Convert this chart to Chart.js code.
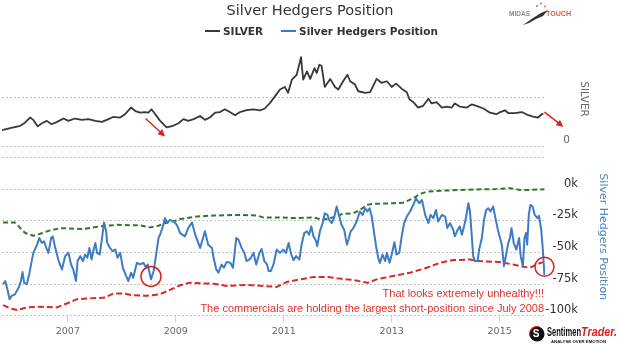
<!DOCTYPE html>
<html>
<head>
<meta charset="utf-8">
<title>Silver Hedgers Position</title>
<script src="https://cdn.jsdelivr.net/npm/chart.js"></script>
<style>
  body { margin: 0; background: #fff; }
  #wrap { position: relative; width: 620px; height: 348px; font-family: "DejaVu Sans", sans-serif; }
  #title { position: absolute; left: 0; top: 2px; width: 620px; text-align: center; font-size: 14.5px; line-height: 17px; color: #333; }
  #legend { position: absolute; left: 205px; top: 24px; height: 14px; font-size: 10.5px; font-weight: bold; color: #333; white-space: nowrap; }
  #legend span { display: inline-block; vertical-align: middle; line-height: 14px; }
  #legend .swatch { width: 15px; height: 2px; margin-right: 3px; }
  #legend .gap { width: 18px; }
  canvas { position: absolute; left: 0; top: 0; }
</style>
</head>
<body>
<div id="wrap">
  <canvas id="chart" width="620" height="348"></canvas>
  <div id="title">Silver Hedgers Position</div>
  <div id="legend">
    <span class="swatch" style="background:#383838"></span><span>SILVER</span><span class="gap"></span><span class="swatch" style="background:#3d7cc5"></span><span>Silver Hedgers Position</span>
  </div>
</div>
<script>
// weekly closes, dates as decimal years
const silverDates = [
  2005.78, 2005.93, 2006.12, 2006.21, 2006.30, 2006.36, 2006.44, 2006.52, 2006.61, 2006.70,
  2006.80, 2006.92, 2007.01, 2007.13, 2007.26, 2007.38, 2007.51, 2007.63, 2007.72, 2007.84,
  2007.97, 2008.06, 2008.17, 2008.25, 2008.34, 2008.43, 2008.49, 2008.55, 2008.62, 2008.71,
  2008.77, 2008.83, 2008.95, 2009.05, 2009.14, 2009.23, 2009.33, 2009.45, 2009.54, 2009.63,
  2009.73, 2009.82, 2009.91, 2010.00, 2010.10, 2010.19, 2010.31, 2010.44, 2010.56, 2010.65,
  2010.75, 2010.84, 2010.93, 2011.02, 2011.08, 2011.15, 2011.24, 2011.32, 2011.36, 2011.43,
  2011.49, 2011.57, 2011.61, 2011.66, 2011.70, 2011.76, 2011.86, 2011.95, 2012.01, 2012.10,
  2012.18, 2012.23, 2012.32, 2012.38, 2012.51, 2012.60, 2012.72, 2012.81, 2012.91, 2013.00,
  2013.08, 2013.19, 2013.28, 2013.33, 2013.40, 2013.49, 2013.58, 2013.68, 2013.74, 2013.83,
  2013.93, 2014.02, 2014.11, 2014.17, 2014.26, 2014.39, 2014.48, 2014.57, 2014.70, 2014.82,
  2014.94, 2015.01, 2015.10, 2015.16, 2015.28, 2015.41, 2015.53, 2015.62, 2015.71, 2015.78,
  2015.81
];
const silverPrices = [
  8.2, 9.2, 10.4, 12.1, 14.6, 13.4, 10.1, 11.7, 12.9, 11.2,
  12.4, 14.1, 12.9, 14.1, 13.4, 13.8, 12.9, 12.4, 13.4, 14.9,
  14.6, 16.3, 19.7, 17.9, 17.1, 17.4, 17.1, 18.8, 16.3, 12.9,
  11.2, 9.6, 10.4, 11.7, 13.8, 12.9, 13.8, 15.4, 13.4, 14.6,
  17.1, 17.4, 18.8, 17.4, 15.8, 17.4, 18.4, 18.8, 18.3, 19.2,
  22.2, 25.5, 28.9, 30.2, 27.2, 33.9, 36.4, 45.4, 33.9, 38.1,
  34.3, 39.8, 37.3, 41.5, 41.0, 30.2, 34.3, 30.2, 28.9, 33.1,
  36.4, 33.1, 31.4, 28.0, 27.2, 27.5, 34.3, 32.3, 33.1, 30.2,
  31.9, 29.2, 27.5, 23.8, 22.5, 19.7, 20.5, 24.2, 21.8, 22.5,
  19.7, 20.2, 19.7, 21.8, 20.2, 19.7, 21.3, 20.5, 19.2, 17.1,
  16.3, 17.4, 18.3, 16.8, 16.8, 17.4, 15.8, 15.1, 14.6, 16.3,
  16.6
];

// commercial hedgers net position, thousands of contracts
const hedgeDates = [
  2005.80, 2005.84, 2005.88, 2005.92, 2005.96, 2006.02, 2006.09, 2006.13, 2006.16, 2006.19,
  2006.24, 2006.29, 2006.33, 2006.36, 2006.43, 2006.47, 2006.52, 2006.56, 2006.60, 2006.64,
  2006.69, 2006.72, 2006.76, 2006.83, 2006.89, 2006.95, 2007.01, 2007.06, 2007.10, 2007.15,
  2007.18, 2007.23, 2007.28, 2007.32, 2007.36, 2007.40, 2007.44, 2007.47, 2007.51, 2007.54,
  2007.59, 2007.63, 2007.67, 2007.71, 2007.73, 2007.78, 2007.83, 2007.88, 2007.92, 2007.97,
  2008.02, 2008.08, 2008.12, 2008.17, 2008.21, 2008.28, 2008.34, 2008.40, 2008.45, 2008.48,
  2008.54, 2008.59, 2008.64, 2008.68, 2008.72, 2008.76, 2008.80, 2008.84, 2008.89, 2008.96,
  2009.02, 2009.08, 2009.17, 2009.23, 2009.30, 2009.36, 2009.45, 2009.54, 2009.60, 2009.67,
  2009.70, 2009.75, 2009.79, 2009.85, 2009.89, 2009.94, 2010.01, 2010.06, 2010.12, 2010.16,
  2010.22, 2010.27, 2010.31, 2010.38, 2010.44, 2010.49, 2010.55, 2010.59, 2010.64, 2010.69,
  2010.72, 2010.76, 2010.81, 2010.87, 2010.93, 2010.99, 2011.04, 2011.09, 2011.13, 2011.18,
  2011.23, 2011.29, 2011.33, 2011.38, 2011.43, 2011.47, 2011.51, 2011.55, 2011.60, 2011.62,
  2011.67, 2011.72, 2011.76, 2011.81, 2011.84, 2011.89, 2011.93, 2011.98, 2012.03, 2012.07,
  2012.12, 2012.17, 2012.20, 2012.24, 2012.29, 2012.35, 2012.41, 2012.46, 2012.51, 2012.55,
  2012.59, 2012.63, 2012.67, 2012.71, 2012.75, 2012.78, 2012.83, 2012.88, 2012.91, 2012.96,
  2013.00, 2013.05, 2013.09, 2013.14, 2013.19, 2013.23, 2013.28, 2013.34, 2013.40, 2013.45,
  2013.51, 2013.56, 2013.62, 2013.68, 2013.72, 2013.77, 2013.82, 2013.86, 2013.93, 2013.99,
  2014.03, 2014.08, 2014.14, 2014.17, 2014.21, 2014.26, 2014.30, 2014.34, 2014.38, 2014.42,
  2014.45, 2014.48, 2014.51, 2014.54, 2014.59, 2014.62, 2014.67, 2014.71, 2014.75, 2014.79,
  2014.83, 2014.88, 2014.91, 2014.96, 2014.99, 2015.04, 2015.08, 2015.12, 2015.16, 2015.19,
  2015.22, 2015.26, 2015.31, 2015.36, 2015.39, 2015.43, 2015.46, 2015.49, 2015.51, 2015.54,
  2015.57, 2015.61, 2015.65, 2015.70, 2015.73, 2015.77, 2015.80, 2015.83
];
const hedgeValues = [
  -75.2, -72.6, -79.1, -87.0, -84.4, -83.1, -77.8, -72.6, -65.5, -73.9,
  -75.2, -66.0, -56.8, -50.3, -43.8, -38.5, -42.4, -41.1, -46.4, -50.3,
  -38.5, -37.2, -45.0, -56.8, -63.4, -52.9, -50.3, -59.5, -63.4, -72.6,
  -56.8, -52.9, -56.8, -51.6, -54.2, -46.4, -55.6, -49.0, -42.4, -50.3,
  -51.6, -39.8, -26.2, -33.2, -42.4, -46.4, -49.0, -47.7, -54.2, -50.3,
  -62.1, -68.6, -72.6, -66.0, -70.0, -58.2, -59.5, -58.2, -62.1, -59.5,
  -71.3, -64.7, -50.3, -38.5, -34.6, -29.3, -22.8, -26.7, -24.1, -25.4,
  -28.1, -34.6, -37.2, -30.7, -26.2, -35.9, -46.4, -33.2, -43.8, -46.4,
  -54.2, -63.4, -66.0, -59.5, -62.1, -57.6, -58.2, -62.1, -38.5, -39.8,
  -46.4, -50.3, -56.8, -55.0, -50.3, -59.5, -50.3, -47.2, -56.8, -59.5,
  -64.7, -64.7, -59.5, -47.7, -50.3, -47.7, -50.3, -42.4, -50.3, -56.0,
  -52.9, -55.6, -43.8, -34.6, -33.2, -35.9, -29.3, -37.2, -41.1, -45.0,
  -33.2, -26.7, -18.9, -20.2, -24.1, -26.7, -22.8, -13.6, -21.5, -28.1,
  -32.0, -43.8, -39.8, -33.2, -30.7, -25.4, -17.5, -20.2, -14.9, -17.5,
  -14.9, -21.5, -33.2, -45.0, -54.2, -58.2, -51.6, -56.8, -50.3, -58.2,
  -51.6, -41.9, -51.6, -50.3, -35.9, -26.7, -21.5, -17.5, -12.3, -7.1,
  -11.0, -8.4, -20.2, -26.7, -20.2, -22.8, -16.3, -25.4, -20.2, -21.5,
  -30.7, -26.7, -32.0, -37.2, -33.2, -29.3, -35.9, -29.3, -21.5, -11.0,
  -17.5, -34.6, -52.9, -56.8, -56.8, -47.7, -38.5, -24.1, -16.3, -14.9,
  -17.5, -13.6, -20.2, -30.7, -35.9, -43.8, -60.8, -51.6, -42.4, -38.5,
  -30.7, -42.4, -47.7, -38.5, -52.9, -60.8, -38.5, -34.6, -43.8, -20.2,
  -12.3, -13.6, -20.2, -22.8, -21.0, -32.0, -47.7, -68.0
];

// 3-year high of the hedger position (green dashed)
const highDates = [
  2005.80, 2006.02, 2006.12, 2006.21, 2006.36, 2006.49, 2006.67, 2006.86, 2007.29, 2007.60,
  2007.91, 2008.34, 2008.52, 2008.68, 2008.83, 2009.02, 2009.08, 2009.39, 2009.70, 2010.19,
  2010.50, 2010.62, 2010.93, 2011.24, 2011.55, 2011.73, 2011.92, 2012.10, 2012.29, 2012.44,
  2012.54, 2012.66, 2013.03, 2013.21, 2013.40, 2013.52, 2013.65, 2013.95, 2014.26, 2014.57,
  2014.88, 2015.19, 2015.38, 2015.56, 2015.83
];
const highValues = [
  -26.2, -26.2, -30.7, -34.6, -36.7, -35.1, -32.5, -30.7, -31.4, -29.3,
  -28.1, -28.5, -30.1, -28.8, -26.2, -24.6, -23.5, -21.5, -20.7, -20.2,
  -20.7, -22.2, -22.2, -22.8, -22.2, -24.1, -22.0, -19.4, -18.9, -15.5,
  -12.3, -11.5, -11.0, -10.5, -7.1, -3.7, -1.8, -1.0, -0.5, 0.0,
  0.2, 1.0, -0.5, -0.5, 0.2
];

// 3-year low of the hedger position (red dashed)
const lowDates = [
  2005.80, 2005.93, 2006.06, 2006.24, 2006.43, 2006.80, 2006.98, 2007.17, 2007.35, 2007.69,
  2007.84, 2008.03, 2008.21, 2008.46, 2008.71, 2008.89, 2009.08, 2009.26, 2009.45, 2009.70,
  2009.94, 2010.31, 2010.62, 2010.87, 2011.06, 2011.30, 2011.55, 2011.80, 2012.04, 2012.29,
  2012.47, 2012.56, 2012.72, 2013.03, 2013.34, 2013.65, 2013.89, 2014.14, 2014.45, 2014.63,
  2015.00, 2015.25, 2015.44, 2015.56, 2015.68, 2015.80
];
const lowValues = [
  -91.7, -94.3, -95.6, -93.5, -93.0, -93.5, -90.4, -87.0, -86.5, -85.7,
  -82.5, -82.5, -83.9, -84.3, -83.1, -79.6, -76.0, -73.9, -74.4, -74.7,
  -76.5, -75.7, -76.5, -77.3, -73.3, -71.3, -69.4, -69.4, -70.7, -71.8,
  -73.3, -74.0, -71.3, -68.6, -66.0, -62.1, -58.2, -56.0, -55.6, -56.8,
  -57.6, -59.5, -61.3, -62.1, -59.5, -57.6
];

const yearTicks = [2007, 2009, 2011, 2013, 2015];
const silverGrid = [0, 25];
const silverLabels = [0];
const hedgeGrid = [25, 0, -25, -50, -75, -100];
const hedgeLabels = [0, -25, -50, -75, -100];

// red markup drawn over the chart, in data units
const arrows = [
  { from: [2008.44, 14.1], to: [2008.80, 5.0] },
  { from: [2015.83, 17.4], to: [2016.18, 9.9] }
];
const rings = [
  { at: [2008.54, -69.0], r: 10 },
  { at: [2015.83, -61.3], r: 9.5 }
];
const notes = [
  { text: 'That looks extremely unhealthy!!!', y: -82.9 },
  { text: 'The commercials are holding the largest short-position since July 2008', y: -95.1 }
];

const pts = (xs, ys) => xs.map((x, i) => ({ x: x, y: ys[i] }));

function squeeze(ctx, text, x, y, width) {
  const w = ctx.measureText(text).width;
  ctx.save();
  ctx.translate(x, y);
  ctx.scale(width / w, 1);
  ctx.fillText(text, 0, 0);
  ctx.restore();
}

function upright(ctx, text, x, y, font, color) {
  ctx.save();
  ctx.translate(x, y);
  ctx.rotate(Math.PI / 2);
  ctx.font = font;
  ctx.fillStyle = color;
  ctx.textAlign = 'center';
  ctx.textBaseline = 'middle';
  ctx.fillText(text, 0, 0);
  ctx.restore();
}

function drawLogos(ctx) {
  // MIDAS TOUCH
  ctx.textAlign = 'left';
  ctx.textBaseline = 'middle';
  ctx.font = 'bold 7.5px "Liberation Sans"';
  ctx.fillStyle = '#8c8c8c';
  squeeze(ctx, 'MIDAS', 509, 14, 21);
  ctx.fillStyle = '#e4583e';
  squeeze(ctx, 'TOUCH', 546, 14, 25);
  ctx.fillStyle = '#333';
  ctx.beginPath();
  ctx.moveTo(523, 25);
  ctx.lineTo(533, 18);
  ctx.lineTo(541, 13);
  ctx.lineTo(548, 10);
  ctx.lineTo(543, 16);
  ctx.lineTo(536, 19);
  ctx.lineTo(529, 23);
  ctx.closePath();
  ctx.fill();
  ctx.fillStyle = '#e4583e';
  [[537, 6], [541, 3.5], [545, 6.5]].forEach(([dx, dy]) => {
    ctx.beginPath();
    ctx.arc(dx, dy, 0.9, 0, Math.PI * 2);
    ctx.fill();
  });

  // SentimenTrader
  ctx.fillStyle = '#111';
  ctx.beginPath();
  ctx.arc(537, 334, 7.5, 0, Math.PI * 2);
  ctx.fill();
  ctx.strokeStyle = '#d22';
  ctx.lineWidth = 1.2;
  ctx.beginPath();
  ctx.arc(537, 334, 7.5, Math.PI * 0.9, Math.PI * 1.6);
  ctx.stroke();
  ctx.fillStyle = '#fff';
  ctx.font = 'bold 10px "Liberation Sans"';
  ctx.textAlign = 'center';
  ctx.fillText('S', 536, 334.5);
  ctx.textAlign = 'left';
  ctx.font = 'bold 13px "Liberation Sans"';
  ctx.fillStyle = '#111';
  squeeze(ctx, 'Sentimen', 547, 332, 34);
  ctx.font = 'bold italic 13.5px "Liberation Sans"';
  ctx.fillStyle = '#e02020';
  squeeze(ctx, 'Trader.', 581, 332, 36);
  ctx.font = 'bold 4px "Liberation Sans"';
  ctx.fillStyle = '#111';
  squeeze(ctx, 'ANALYSE OVER EMOTION', 551, 341.5, 55);
}

const overlay = {
  id: 'overlay',
  afterDraw(chart) {
    const { ctx, chartArea, scales } = chart;
    const x = scales.x, silver = scales.silver, hedge = scales.hedge;
    ctx.save();

    // right-hand axis labels
    ctx.textAlign = 'right';
    ctx.textBaseline = 'middle';
    ctx.font = '11.5px "DejaVu Sans"';
    ctx.fillStyle = '#333';
    hedgeLabels.forEach(v => ctx.fillText(v + 'k', 578, hedge.getPixelForValue(v) - 5.5));
    ctx.font = '10.5px "DejaVu Sans"';
    ctx.fillStyle = '#666';
    silverLabels.forEach(v => ctx.fillText(String(v), 570, silver.getPixelForValue(v) - 5.5));

    upright(ctx, 'SILVER', 584, silver.getPixelForValue(24), '10.5px "DejaVu Sans"', '#666');
    const mid = (hedge.getPixelForValue(25) + hedge.getPixelForValue(-100)) / 2;
    upright(ctx, 'Silver Hedgers Position', 603, mid, '11px "DejaVu Sans"', '#4a86c8');

    // arrows on the silver pane
    ctx.strokeStyle = '#e0201b';
    ctx.fillStyle = '#e0201b';
    ctx.lineWidth = 1.5;
    arrows.forEach(a => {
      const x1 = x.getPixelForValue(a.from[0]), y1 = silver.getPixelForValue(a.from[1]);
      const x2 = x.getPixelForValue(a.to[0]), y2 = silver.getPixelForValue(a.to[1]);
      const ang = Math.atan2(y2 - y1, x2 - x1);
      ctx.beginPath();
      ctx.moveTo(x1, y1);
      ctx.lineTo(x2 - 5 * Math.cos(ang), y2 - 5 * Math.sin(ang));
      ctx.stroke();
      ctx.beginPath();
      ctx.moveTo(x2, y2);
      ctx.lineTo(x2 - 7 * Math.cos(ang) + 3.5 * Math.sin(ang), y2 - 7 * Math.sin(ang) - 3.5 * Math.cos(ang));
      ctx.lineTo(x2 - 7 * Math.cos(ang) - 3.5 * Math.sin(ang), y2 - 7 * Math.sin(ang) + 3.5 * Math.cos(ang));
      ctx.closePath();
      ctx.fill();
    });

    // rings on the hedgers pane
    rings.forEach(r => {
      ctx.beginPath();
      ctx.arc(x.getPixelForValue(r.at[0]), hedge.getPixelForValue(r.at[1]), r.r, 0, Math.PI * 2);
      ctx.stroke();
    });

    ctx.font = '11px "Liberation Sans"';
    ctx.textAlign = 'right';
    ctx.textBaseline = 'middle';
    ctx.fillStyle = '#e0302b';
    notes.forEach(n => ctx.fillText(n.text, chartArea.right - 1, hedge.getPixelForValue(n.y)));

    drawLogos(ctx);
    ctx.restore();
  }
};

const dotted = { display: false, dash: [2, 2] };

new Chart(document.getElementById('chart'), {
  type: 'line',
  data: {
    datasets: [
      { label: 'SILVER', data: pts(silverDates, silverPrices), yAxisID: 'silver',
        borderColor: '#383838', borderWidth: 1.8 },
      { label: 'Silver Hedgers Position', data: pts(hedgeDates, hedgeValues), yAxisID: 'hedge',
        borderColor: '#3d7cc5', borderWidth: 2 },
      { label: 'High', data: pts(highDates, highValues), yAxisID: 'hedge',
        borderColor: '#2b7a2b', borderWidth: 2, borderDash: [5, 3] },
      { label: 'Low', data: pts(lowDates, lowValues), yAxisID: 'hedge',
        borderColor: '#d42a2a', borderWidth: 2, borderDash: [6, 3] }
    ]
  },
  options: {
    responsive: false,
    animation: false,
    elements: {
      point: { radius: 0 },
      line: { tension: 0, borderJoinStyle: 'round' }
    },
    layout: { padding: { left: 2, right: 75, top: 46, bottom: 8 } },
    plugins: {
      legend: { display: false },
      title: { display: false },
      tooltip: { enabled: false }
    },
    scales: {
      x: {
        type: 'linear',
        min: 2005.78,
        max: 2015.84,
        afterBuildTicks: s => { s.ticks = yearTicks.map(v => ({ value: v })); },
        ticks: {
          callback: v => String(v),
          font: { family: 'DejaVu Sans', size: 9.5 },
          color: '#666',
          padding: 3,
          maxRotation: 0,
          autoSkip: false
        },
        grid: { drawOnChartArea: false, drawTicks: true, tickLength: 7, color: '#ccd6e0' },
        border: { display: false }
      },
      silver: {
        position: 'right',
        min: -86.34,
        max: 51.06,
        afterBuildTicks: s => { s.ticks = silverGrid.map(v => ({ value: v })); },
        ticks: { display: false },
        grid: { color: '#c4c4c4', drawTicks: false },
        border: dotted
      },
      hedge: {
        position: 'right',
        min: -100,
        max: 113.6,
        afterBuildTicks: s => { s.ticks = hedgeGrid.map(v => ({ value: v })); },
        ticks: { display: false },
        grid: { color: '#c4c4c4', drawTicks: false },
        border: dotted
      }
    }
  },
  plugins: [overlay]
});
</script>
</body>
</html>
